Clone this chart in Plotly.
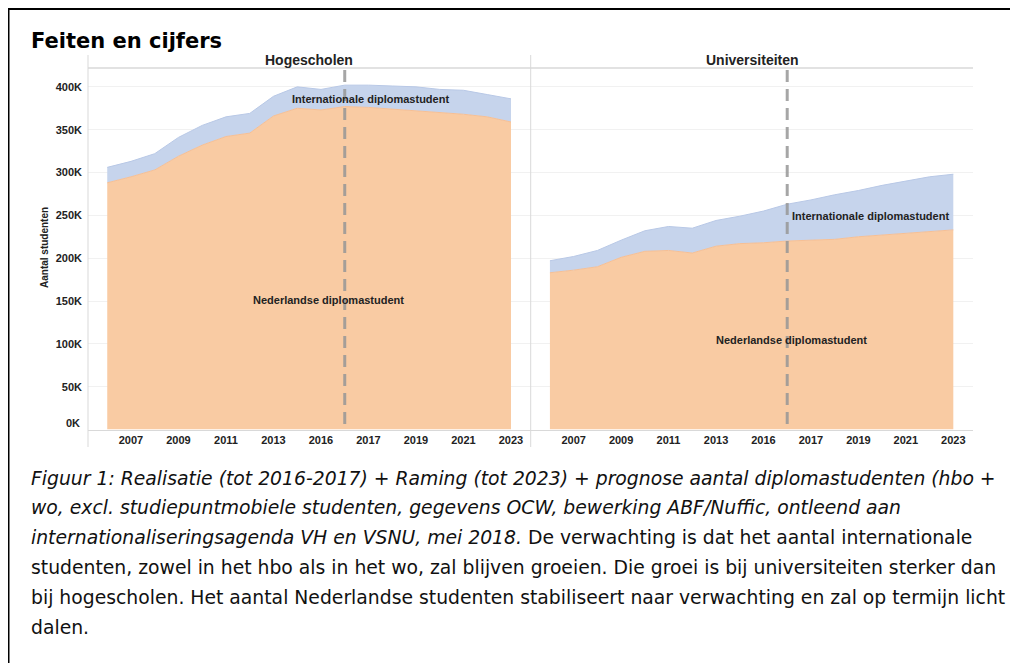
import plotly.graph_objects as go

# ---------------- data (values in thousands) ----------------
years = ["2006", "2007", "2008", "2009", "2010", "2011", "2012", "2013", "2014",
         "2015", "2016", "2017", "2018", "2019", "2020", "2021", "2022", "2023"]
tick_labels = ["2007", "2009", "2011", "2013", "2016", "2017", "2019", "2021", "2023"]
forecast_start = "2016"

hbo_nl = [288, 295, 303, 319, 332, 342, 346, 366, 375, 373, 377, 376, 374, 372, 370, 368, 365, 359]
hbo_int = [18, 18, 19, 22, 23, 23, 23, 23, 25, 24, 25, 26, 27, 28, 27, 28, 26, 27]

wo_nl = [183, 186, 190, 201, 208, 209, 206, 214, 217, 218, 220, 221, 222, 225, 227, 229, 231, 233]
wo_int = [14, 16, 19, 20, 24, 28, 29, 30, 32, 37, 43, 47, 52, 54, 58, 61, 64, 65]

y_ticks = [50, 100, 150, 200, 250, 300, 350, 400]
y_tick_labels = ["50K", "100K", "150K", "200K", "250K", "300K", "350K", "400K"]

caption_lines = [
    "<i>Figuur 1: Realisatie (tot 2016-2017) + Raming (tot 2023) + prognose aantal diplomastudenten (hbo +</i>",
    "<i>wo, excl. studiepuntmobiele studenten, gegevens OCW, bewerking ABF/Nuffic, ontleend aan</i>",
    "<i>internationaliseringsagenda VH en VSNU, mei 2018.</i> De verwachting is dat het aantal internationale",
    "studenten, zowel in het hbo als in het wo, zal blijven groeien. Die groei is bij universiteiten sterker dan",
    "bij hogescholen. Het aantal Nederlandse studenten stabiliseert naar verwachting en zal op termijn licht",
    "dalen.",
]

# ---------------- styling ----------------
OFF = 8                      # page body margin
W, H = 1018 - OFF, 663 - OFF
def fx(px):
    return (px - OFF) / W
def fy(py):
    return 1 - (py - OFF) / H

ORANGE = "#F9CBA3"
ORANGE_LINE = "#F6BF94"
BLUE = "#C6D4EC"
BLUE_LINE = "#B8C8E6"
GRID = "#F1F1F1"
PANE = "#D9D9D9"
TXT = "#222222"
CHART_FONT = "Liberation Sans"
PAGE_FONT = "DejaVu Sans"

fig = go.Figure()

for xa, ya, grp, nl, intl in [("x", "y", "hbo", hbo_nl, hbo_int),
                              ("x2", "y2", "wo", wo_nl, wo_int)]:
    fig.add_trace(go.Scatter(x=years, y=nl, xaxis=xa, yaxis=ya, stackgroup=grp,
                             mode="lines", line=dict(color=ORANGE_LINE, width=1),
                             fillcolor=ORANGE, name="Nederlandse diplomastudent",
                             showlegend=False, hoverinfo="skip"))
    fig.add_trace(go.Scatter(x=years, y=intl, xaxis=xa, yaxis=ya, stackgroup=grp,
                             mode="lines", line=dict(color=BLUE_LINE, width=1),
                             fillcolor=BLUE, name="Internationale diplomastudent",
                             showlegend=False, hoverinfo="skip"))

tickfont = dict(family=CHART_FONT, size=11, color=TXT, weight="bold")
xcommon = dict(type="category", categoryorder="array", categoryarray=years,
               range=[-0.81, 17.83], tickvals=years[1::2], ticktext=tick_labels,
               showgrid=False, showline=True, linecolor=PANE, linewidth=1,
               ticks="", tickfont=tickfont, zeroline=False, fixedrange=True)
ycommon = dict(range=[0, 422], tickvals=y_ticks, ticktext=y_tick_labels,
               domain=[fy(429.5), fy(68)], showgrid=True, gridcolor=GRID,
               gridwidth=1, zeroline=False, showline=False, ticks="",
               tickfont=tickfont, fixedrange=True)

fig.update_layout(
    width=W, height=H,
    margin=dict(l=0, r=0, t=0, b=0),
    paper_bgcolor="white", plot_bgcolor="white",
    showlegend=False,
    xaxis=dict(xcommon, domain=[fx(88), fx(530.7)], anchor="y"),
    xaxis2=dict(xcommon, domain=[fx(530.7), fx(973)], anchor="y2"),
    yaxis=dict(ycommon, anchor="x", ticklabelstandoff=5),
    yaxis2=dict(ycommon, anchor="x2", showticklabels=False),
)

shapes = []
# pane borders
for px in (88, 530.7):
    shapes.append(dict(type="line", xref="paper", yref="paper",
                       x0=fx(px), x1=fx(px), y0=fy(447), y1=fy(55),
                       line=dict(color=PANE, width=1)))
shapes.append(dict(type="line", xref="paper", yref="paper",
                   x0=fx(88), x1=fx(973), y0=fy(68), y1=fy(68),
                   line=dict(color=PANE, width=1.5)))
# forecast dashed lines
fc_idx = years.index(forecast_start)
for xa, ya in (("x", "y"), ("x2", "y2")):
    shapes.append(dict(type="line", xref=xa, yref=ya + " domain",
                       x0=fc_idx, x1=fc_idx, y0=0.015, y1=1,
                       layer="above",
                       line=dict(color="rgba(150,150,150,0.85)", width=3, dash="12px,7px")))
# page border (top and left)
shapes.append(dict(type="line", xref="paper", yref="paper",
                   x0=fx(8), x1=fx(1030), y0=fy(9), y1=fy(9),
                   line=dict(color="black", width=2)))
shapes.append(dict(type="line", xref="paper", yref="paper",
                   x0=fx(8.5), x1=fx(8.5), y0=fy(9), y1=fy(700),
                   line=dict(color="black", width=2)))
fig.update_layout(shapes=shapes)

lab = dict(family=CHART_FONT, size=11, color=TXT, weight="bold")
ann = [
    dict(text="Feiten en cijfers", xref="paper", yref="paper", x=fx(29), y=fy(41),
         xanchor="left", yanchor="middle", showarrow=False,
         font=dict(family=PAGE_FONT, size=21, color="black", weight="bold")),
    dict(text="Hogescholen", xref="paper", yref="paper", x=fx(309), y=fy(60),
         xanchor="center", yanchor="middle", showarrow=False,
         font=dict(family=CHART_FONT, size=14, color=TXT, weight="bold")),
    dict(text="Universiteiten", xref="paper", yref="paper", x=fx(752), y=fy(60),
         xanchor="center", yanchor="middle", showarrow=False,
         font=dict(family=CHART_FONT, size=14, color=TXT, weight="bold")),
    dict(text="Aantal studenten", xref="paper", yref="paper", x=fx(45), y=fy(248),
         xanchor="center", yanchor="middle", textangle=-90, showarrow=False,
         font=dict(family=CHART_FONT, size=10, color=TXT, weight="bold")),
    dict(text="0K", xref="paper", yref="y", x=fx(82), y=0, yshift=7,
         xanchor="right", yanchor="middle", showarrow=False, font=lab),
    dict(text="Internationale diplomastudent", xref="x", yref="y", x=11.07, y=386,
         xanchor="center", yanchor="middle", showarrow=False, font=lab),
    dict(text="Nederlandse diplomastudent", xref="x", yref="y", x=9.32, y=151.6,
         xanchor="center", yanchor="middle", showarrow=False, font=lab),
    dict(text="Internationale diplomastudent", xref="x2", yref="y2", x=13.49, y=248.7,
         xanchor="center", yanchor="middle", showarrow=False, font=lab),
    dict(text="Nederlandse diplomastudent", xref="x2", yref="y2", x=10.19, y=104,
         xanchor="center", yanchor="middle", showarrow=False, font=lab),
]
for i, line in enumerate(caption_lines):
    ann.append(dict(text=line, xref="paper", yref="paper", x=fx(29),
                    y=fy(478 + i * 29.8), xanchor="left", yanchor="middle",
                    showarrow=False,
                    font=dict(family=PAGE_FONT, size=18.8, color="#111111")))
fig.update_layout(annotations=ann)

fig.write_html("out.html", config=dict(displayModeBar=False, staticPlot=True))
